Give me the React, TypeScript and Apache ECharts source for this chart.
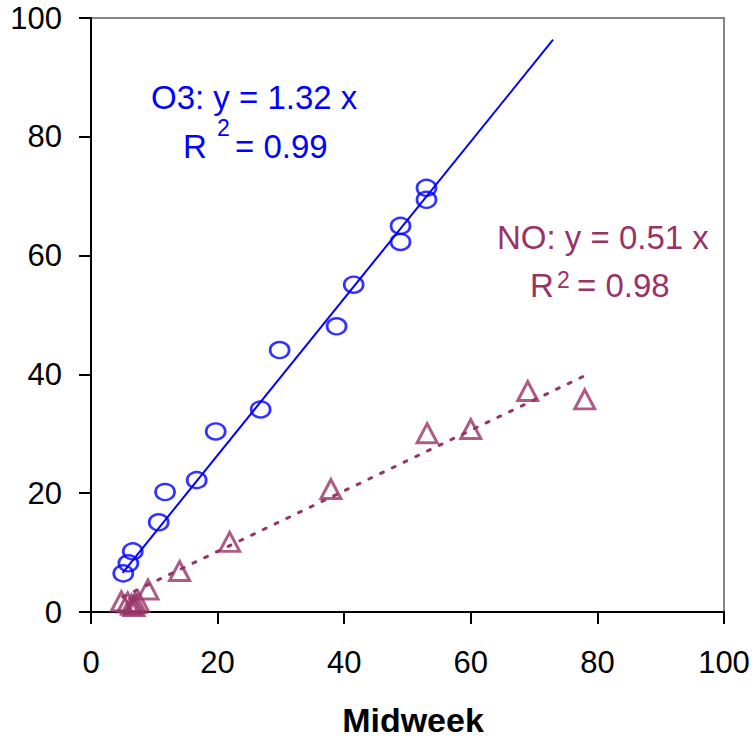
import React, { useEffect, useRef } from "react";
import * as echarts from "echarts";

// ---- data ----
const xTicks = [0, 20, 40, 60, 80, 100];
const yTicks = [0, 20, 40, 60, 80, 100];

const o3X = [5.1, 5.9, 6.6, 10.7, 11.7, 16.7, 19.7, 26.8, 29.8, 38.8, 41.5, 48.9, 48.9, 53.0, 53.0];
const o3Y = [6.5, 8.2, 10.2, 15.1, 20.2, 22.2, 30.4, 34.1, 44.1, 48.1, 55.1, 62.3, 65.0, 69.4, 71.4];

const noX = [4.8, 5.8, 6.4, 7.0, 7.5, 6.8, 9.0, 14.0, 21.9, 37.9, 53.1, 60.0, 69.0, 78.0];
const noY = [1.8, 1.6, 1.2, 1.5, 1.7, 1.0, 3.8, 6.9, 11.8, 20.7, 30.1, 30.8, 37.2, 35.8];

// trend lines (from the equations printed on the chart)
const o3Slope = 1.32;
const o3FitRange = [5.0, 73.0];
const noSlope = 0.51;
const noFitRange = [5.0, 78.0];

const o3Label = "O3: y = 1.32 x";
const o3R2 = "= 0.99";
const noLabel = "NO: y = 0.51 x";
const noR2 = "= 0.98";
const xTitle = "Midweek";

const BLUE = "#0000FF";
const PLUM = "#993366";
const FONT = "'Liberation Sans', Arial, sans-serif";

export default function App() {
  const ref = useRef<HTMLDivElement>(null);

  useEffect(() => {
    if (!ref.current) return;
    const chart = echarts.init(ref.current, undefined, { renderer: "svg" });

    const o3Data = o3X.map((x, i) => [x, o3Y[i]]);
    const noData = noX.map((x, i) => [x, noY[i]]);
    const o3Fit = o3FitRange.map((x) => [x, o3Slope * x]);
    const noFit = noFitRange.map((x) => [x, noSlope * x]);

    const txt = (
      text: string,
      x: number,
      y: number,
      size: number,
      color: string,
      align = "left",
      weight = "normal"
    ) => ({
      type: "text",
      x,
      y,
      silent: true,
      style: {
        text,
        fill: color,
        fontSize: size,
        fontFamily: FONT,
        fontWeight: weight,
        textAlign: align,
        align,
        textVerticalAlign: "middle",
        verticalAlign: "middle",
      },
    });

    chart.setOption({
      animation: false,
      backgroundColor: "#ffffff",
      grid: {
        left: 91,
        right: 32,
        top: 18,
        bottom: 127,
        show: true,
        borderColor: "#858585",
        borderWidth: 2,
        backgroundColor: "transparent",
      },
      xAxis: {
        type: "value",
        min: xTicks[0],
        max: xTicks[xTicks.length - 1],
        interval: 20,
        splitLine: { show: false },
        axisLine: { show: true, onZero: false, lineStyle: { color: "#000", width: 2 } },
        axisTick: { show: true, length: 12, lineStyle: { color: "#000", width: 2 } },
        axisLabel: {
          color: "#000",
          fontSize: 31,
          fontFamily: FONT,
          margin: 35,
        },
      },
      yAxis: {
        type: "value",
        min: yTicks[0],
        max: yTicks[yTicks.length - 1],
        interval: 20,
        splitLine: { show: false },
        axisLine: { show: true, onZero: false, lineStyle: { color: "#000", width: 2 } },
        axisTick: { show: true, length: 12, lineStyle: { color: "#000", width: 2 } },
        axisLabel: {
          color: "#000",
          fontSize: 31,
          fontFamily: FONT,
          margin: 29,
        },
      },
      series: [
        {
          name: "O3 fit",
          type: "line",
          data: o3Fit,
          showSymbol: false,
          symbol: "none",
          lineStyle: { color: BLUE, width: 2 },
          z: 2,
        },
        {
          name: "NO fit",
          type: "line",
          data: noFit,
          showSymbol: false,
          symbol: "none",
          lineStyle: { color: PLUM, width: 3, type: [3, 10], cap: "round" },
          z: 2,
        },
        {
          name: "O3",
          type: "scatter",
          data: o3Data,
          symbol: "circle",
          symbolSize: [19, 16],
          itemStyle: { color: "rgba(0,0,0,0)", borderColor: BLUE, borderWidth: 2.6 },
          z: 3,
        },
        {
          name: "NO",
          type: "scatter",
          data: noData,
          symbol: "triangle",
          symbolSize: [20, 19],
          itemStyle: { color: "rgba(0,0,0,0)", borderColor: PLUM, borderWidth: 3 },
          z: 3,
        },
      ],
      graphic: [
        txt(o3Label, 151, 97, 33, BLUE),
        txt("R", 183, 146, 33, BLUE),
        txt("2", 217, 128, 23, BLUE),
        txt(o3R2, 235, 146, 33, BLUE),
        txt(noLabel, 497, 237, 33, PLUM),
        txt("R", 530, 285, 33, PLUM),
        txt("2", 557, 280, 23, PLUM),
        txt(noR2, 577, 285, 33, PLUM),
        txt(xTitle, 413, 720, 34, "#000", "center", "bold"),
      ],
    });

    return () => chart.dispose();
  }, []);

  return (
    <div
      ref={ref}
      style={{ position: "fixed", left: 0, top: 0, width: 756, height: 739, background: "#fff" }}
    />
  );
}
